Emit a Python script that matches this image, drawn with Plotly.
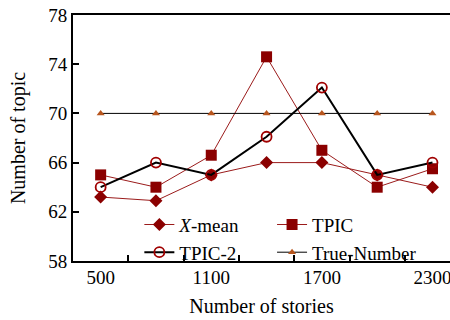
import plotly.graph_objects as go

stories = [500, 800, 1100, 1400, 1700, 2000, 2300]
x_mean = [63.2, 62.9, 65.0, 66.0, 66.0, 65.0, 64.0]
tpic = [65.0, 64.0, 66.6, 74.6, 67.0, 64.0, 65.5]
tpic2 = [64.0, 66.0, 65.0, 68.1, 72.1, 65.0, 66.0]
true_number = [70, 70, 70, 70, 70, 70, 70]

x_ticks = [500, 1100, 1700, 2300]
x_minor = [650, 950, 1250, 1550, 1850, 2150]
y_ticks = [58, 62, 66, 70, 74, 78]

font = "Liberation Serif, Times New Roman, serif"
dark_red = "#8B0000"

fig = go.Figure()
fig.add_trace(go.Scatter(
    x=stories, y=x_mean, name="<i>X</i>-mean", mode="lines+markers", legend="legend",
    line=dict(color="#9B1B1B", width=1),
    marker=dict(symbol="diamond", size=10, color=dark_red)))
fig.add_trace(go.Scatter(
    x=stories, y=tpic, name="TPIC", mode="lines+markers", legend="legend2",
    line=dict(color="#9B1B1B", width=1),
    marker=dict(symbol="square", size=11, color=dark_red)))
fig.add_trace(go.Scatter(
    x=stories, y=tpic2, name="TPIC-2", mode="lines+markers", legend="legend",
    line=dict(color="black", width=2),
    marker=dict(symbol="circle-open", size=10, color="#A00000", line=dict(width=1.8))))
fig.add_trace(go.Scatter(
    x=stories, y=true_number, name="True-Number", mode="lines+markers", legend="legend2",
    line=dict(color="black", width=1),
    marker=dict(symbol="triangle-up", size=7, color="#B8561E")))

legend_common = dict(
    orientation="v", y=0.225, xanchor="left", yanchor="top",
    bgcolor="rgba(0,0,0,0)", font=dict(family=font, size=19),
    traceorder="normal", tracegroupgap=0)

fig.update_layout(
    width=450, height=320,
    margin=dict(l=73, r=0, t=15, b=59, autoexpand=False),
    paper_bgcolor="white", plot_bgcolor="white",
    font=dict(family=font, size=19, color="black"),
    showlegend=True,
    legend=dict(x=0.176, **legend_common),
    legend2=dict(x=0.528, **legend_common),
    xaxis=dict(
        range=[350, 2395], tickvals=x_ticks, ticktext=[str(v) for v in x_ticks],
        ticks="", showgrid=False, zeroline=False, automargin=False,
        ticklabeloverflow="allow", ticklabelstandoff=-2,
        showline=True, linecolor="black", linewidth=2, mirror=True,
        minor=dict(tickvals=x_minor, ticks="inside", ticklen=6, tickcolor="black", tickwidth=1.5),
        title=dict(text="Number of stories", font=dict(family=font, size=20), standoff=12),
        tickfont=dict(family=font, size=19)),
    yaxis=dict(
        range=[58, 78], tickvals=y_ticks, ticks="inside", ticklen=6, tickwidth=1.5,
        tickcolor="black", showgrid=False, zeroline=False, automargin=False,
        showline=True, linecolor="black", linewidth=2,
        title=dict(text="Number of topic", font=dict(family=font, size=20), standoff=17),
        tickfont=dict(family=font, size=19)),
)

fig.write_html("out.html", config={"displayModeBar": False},
               post_script="document.body.style.margin='0';document.body.style.overflow='hidden';")
